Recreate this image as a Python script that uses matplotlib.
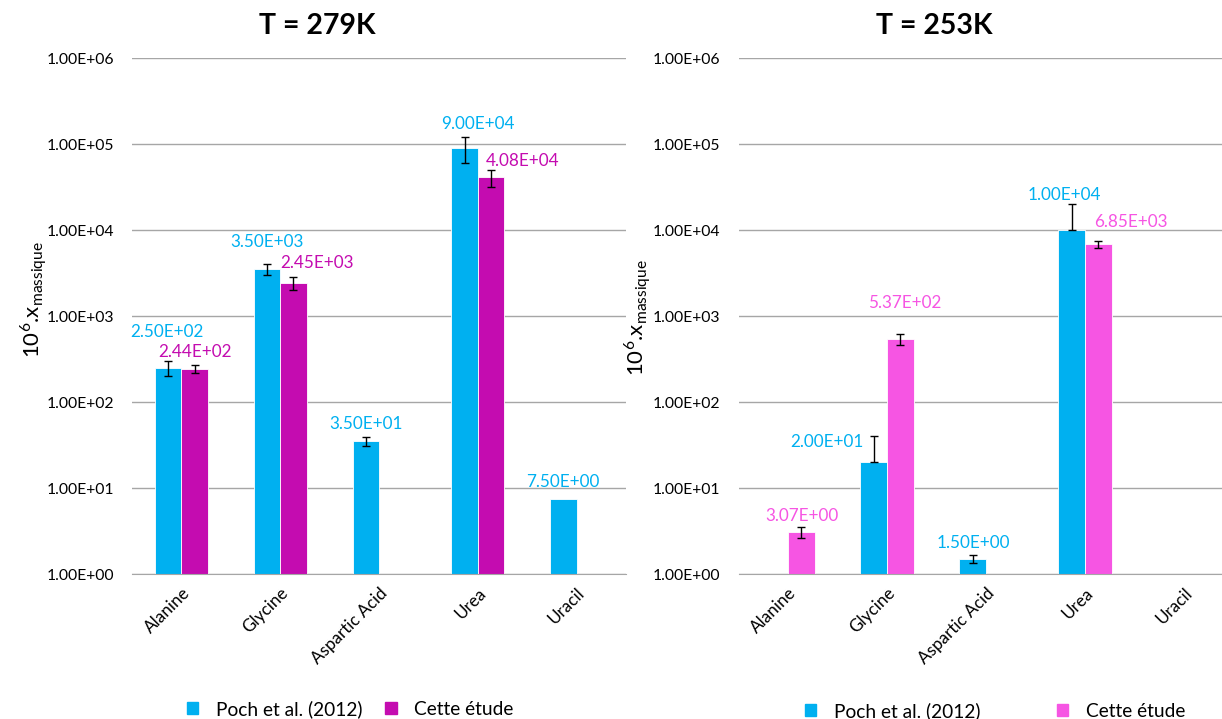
import numpy as np
import matplotlib
matplotlib.use("Agg")
import matplotlib.pyplot as plt
from matplotlib.patches import Patch

plt.rcParams['font.family'] = ['Lato', 'DejaVu Sans']
plt.rcParams['mathtext.fontset'] = 'custom'
plt.rcParams['mathtext.rm'] = 'Lato'

nan = np.nan
categories = ['Alanine', 'Glycine', 'Aspartic Acid', 'Urea', 'Uracil']

# T = 279K
poch_279 = [250, 3500, 35, 90000, 7.5]
poch_279_err = [50, 500, 4.5, 30000, nan]
etude_279 = [244, 2450, nan, 40800, nan]
etude_279_err = [27, 420, nan, 9000, nan]

# T = 253K
poch_253 = [nan, 20, 1.5, 10000, nan]
poch_253_err_lo = [nan, 0, 0.15, 0, nan]
poch_253_err_hi = [nan, 20, 0.15, 10000, nan]
etude_253 = [3.07, 537, nan, 6850, nan]
etude_253_err = [0.42, 75, nan, 650, nan]

# label offsets (pixels, relative to bar top centre)
off_poch_279 = [(-1, 36), (0, 27), (0, 17), (13, 24), (-1, 17)]
off_etude_279 = [(0, 17), (24, 20), None, (32, 16), None]
off_poch_253 = [None, (-47, 20), (1, 16), (-7, 35), None]
off_etude_253 = [(1, 16), (4, 36), None, (33, 22), None]

BLUE = '#00B0F0'
PURPLE = '#C40CB0'
PINK = '#F655E3'

W, H = 1222, 719
fig = plt.figure(figsize=(W / 100, H / 100), dpi=100)

ax1 = fig.add_axes([132 / W, 1 - 574 / H, 494 / W, 516 / H])
ax2 = fig.add_axes([738.5 / W, 1 - 574 / H, 495 / W, 516 / H])

x = np.arange(len(categories))
bw = 0.268


def draw(ax, blue, blue_err, other, other_err, other_col, off_b, off_o):
    ax.set_yscale('log')
    ax.set_ylim(1, 1e6)
    ax.set_xlim(-0.5, len(categories) - 0.5)
    for series, err, col, dx, offs in [(blue, blue_err, BLUE, -bw / 2, off_b),
                                       (other, other_err, other_col, bw / 2, off_o)]:
        vals = np.array(series, dtype=float)
        ax.bar(x + dx, vals, bw, color=col, edgecolor='white', linewidth=0.6,
               bottom=0, zorder=2)
        ax.errorbar(x + dx, vals, yerr=err, fmt='none', ecolor='black',
                    elinewidth=1, capsize=3, capthick=1, zorder=3)
        for xi, v, o in zip(x + dx, vals, offs):
            if np.isnan(v) or o is None:
                continue
            ax.annotate('{:.2E}'.format(v), (xi, v), xytext=o,
                        textcoords='offset pixels', ha='center', va='center',
                        color=col, fontsize=12.3, zorder=4)
    ax.set_yticks([10.0 ** k for k in range(7)])
    ax.set_yticklabels(['{:.2E}'.format(10.0 ** k) for k in range(7)])
    ax.minorticks_off()
    ax.yaxis.grid(True, color='#a6a6a6', linewidth=1, zorder=0)
    ax.set_axisbelow(True)
    for s in ['top', 'right', 'left']:
        ax.spines[s].set_visible(False)
    ax.spines['bottom'].set_color('#a6a6a6')
    ax.tick_params(axis='both', length=0, labelsize=11.3, colors='black')
    ax.tick_params(axis='y', pad=13)
    ax.set_xticks(x)
    ax.set_xticklabels(categories, rotation=45, ha='right',
                       rotation_mode='anchor', fontsize=12.3)
    ax.tick_params(axis='x', pad=8)


draw(ax1, poch_279, poch_279_err, etude_279, etude_279_err, PURPLE,
     off_poch_279, off_etude_279)
draw(ax2, poch_253, [poch_253_err_lo, poch_253_err_hi], etude_253,
     etude_253_err, PINK, off_poch_253, off_etude_253)

fig.text(317 / W, 1 - 26 / H, 'T = 279K', ha='center', va='center',
         fontsize=20.5, fontweight='bold')
fig.text(934 / W, 1 - 26 / H, 'T = 253K', ha='center', va='center',
         fontsize=20.5, fontweight='bold')

ylab = r'10$^{6}$.x$_{\mathregular{massique}}$'
fig.text(34 / W, 1 - 300 / H, ylab, rotation=90, ha='center', va='center',
         fontsize=16)
fig.text(638 / W, 1 - 318 / H, ylab, rotation=90, ha='center', va='center',
         fontsize=16)

fig.legend(handles=[Patch(color=BLUE, label='Poch et al. (2012)'),
                    Patch(color=PURPLE, label='Cette étude')],
           loc='center', bbox_to_anchor=(350 / W, 1 - 709 / H), ncol=2,
           frameon=False, fontsize=13.8, handlelength=0.6, handleheight=0.6,
           columnspacing=1.2, handletextpad=0.9)
fig.legend(handles=[Patch(color=BLUE, label='Poch et al. (2012)'),
                    Patch(color=PINK, label='Cette étude')],
           loc='center', bbox_to_anchor=(995 / W, 1 - 711 / H), ncol=2,
           frameon=False, fontsize=13.8, handlelength=0.6, handleheight=0.6,
           columnspacing=4.0, handletextpad=0.9)

fig.savefig('out.png', dpi=100)
